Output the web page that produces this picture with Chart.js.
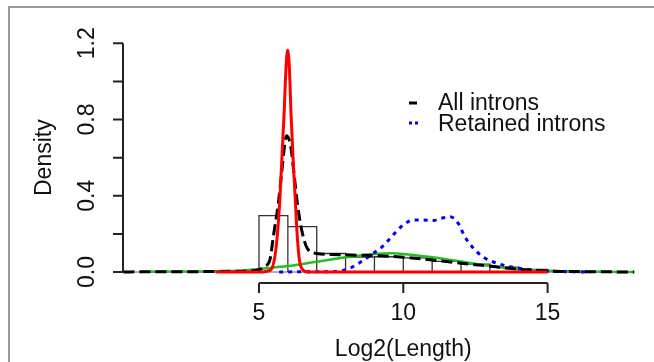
<!DOCTYPE html>
<html>
<head>
<meta charset="utf-8">
<script src="https://cdn.jsdelivr.net/npm/chart.js@4/dist/chart.umd.min.js"></script>
<style>
  html, body { margin: 0; padding: 0; background: #fff; }
  canvas { display: block; }
</style>
</head>
<body>
<canvas id="chart" width="654" height="362" style="width:654px;height:362px"></canvas>
<script>
// histogram (density scale), bins of width 1
const binStarts = [5, 6, 7, 8, 9, 10, 11, 12, 13, 14, 15, 16];
const binDensity = [0.296, 0.238, 0.097, 0.078, 0.080, 0.074, 0.056, 0.041, 0.026, 0.014, 0.005, 0.001];

// All introns - black dashed density
const allX = [0.3, 1, 2, 3, 4, 4.6, 5.0, 5.2, 5.38, 5.5, 5.67, 5.82, 5.9, 5.96, 6.03, 6.1, 6.21, 6.33, 6.48, 6.67, 7.0, 7.5, 8, 8.5, 9, 9.5, 10, 10.5, 11, 11.5, 12, 12.5, 13, 13.5, 14, 14.5, 15, 15.5, 16, 17, 18];
const allY = [0, 0.001, 0.001, 0.002, 0.004, 0.006, 0.012, 0.03, 0.065, 0.19, 0.36, 0.57, 0.68, 0.715, 0.70, 0.66, 0.52, 0.36, 0.22, 0.125, 0.097, 0.092, 0.09, 0.088, 0.086, 0.083, 0.078, 0.071, 0.063, 0.055, 0.046, 0.038, 0.031, 0.022, 0.014, 0.009, 0.005, 0.003, 0.002, 0.001, 0];

// Retained introns - blue dotted density
const retX = [5.7, 6.5, 7.0, 7.5, 7.8, 8.15, 8.5, 8.96, 9.31, 9.66, 10.0, 10.35, 10.69, 11.04, 11.33, 11.62, 11.9, 12.13, 12.43, 12.78, 13.24, 13.7, 14.16, 14.74, 15.3, 16.0, 16.5];
const retY = [0, 0.001, 0.001, 0.002, 0.005, 0.02, 0.05, 0.098, 0.138, 0.196, 0.247, 0.273, 0.273, 0.27, 0.282, 0.29, 0.256, 0.186, 0.125, 0.077, 0.046, 0.028, 0.016, 0.007, 0.003, 0.001, 0];

// red component (narrow peak)
const redX = [3.5, 5.0, 5.4, 5.55, 5.65, 5.73, 5.8, 5.87, 5.93, 5.99, 6.05, 6.11, 6.18, 6.25, 6.33, 6.4, 6.5, 6.7, 7.0, 15.0];
const redY = [0, 0, 0.01, 0.08, 0.22, 0.40, 0.62, 0.83, 1.05, 1.163, 1.08, 0.83, 0.60, 0.40, 0.18, 0.063, 0.015, 0, 0, 0];

// green component (broad)
const greenX = [1, 2, 3, 4, 4.5, 5, 6, 7, 8, 9, 9.6, 10, 11, 12, 13, 14, 15, 16, 17, 18];
const greenY = [0.001, 0.002, 0.003, 0.005, 0.008, 0.016, 0.031, 0.054, 0.077, 0.094, 0.098, 0.095, 0.077, 0.055, 0.032, 0.015, 0.006, 0.002, 0.001, 0];

const zeroLineX = [0.3, 18];

const yTicks = [0, 0.2, 0.4, 0.6, 0.8, 1.0, 1.2];
const yTickLabels = ['0.0', '', '0.4', '', '0.8', '', '1.2'];
const xTicks = [5, 10, 15];
const xTickLabels = ['5', '10', '15'];

const legendLabels = ['All introns', 'Retained introns'];

const toPoints = (xs, ys) => xs.map((x, i) => ({ x: x, y: ys[i] }));

// outline of the histogram bars
const histPoints = [];
binStarts.forEach((b, i) => {
  histPoints.push({ x: b, y: 0 }, { x: b, y: binDensity[i] }, { x: b + 1, y: binDensity[i] }, { x: b + 1, y: 0 });
});

const FONT = '"Liberation Sans", Arial, sans-serif';

const rAxes = {
  id: 'rAxes',
  beforeDraw(chart) {
    const c = chart.ctx;
    c.save();
    c.fillStyle = '#fff';
    c.fillRect(0, 0, chart.width, chart.height);
    // outer frame
    c.strokeStyle = '#9a9a9a';
    c.lineWidth = 2;
    c.beginPath();
    c.moveTo(9, chart.height);
    c.lineTo(9, 7);
    c.lineTo(chart.width, 7);
    c.stroke();
    c.restore();
  },
  afterDraw(chart) {
    const c = chart.ctx;
    const xs = chart.scales.x, ys = chart.scales.y;
    const area = chart.chartArea;
    c.save();
    c.strokeStyle = '#222';
    c.fillStyle = '#111';
    c.lineWidth = 2;

    // y axis
    const yAxisX = area.left;
    c.beginPath();
    c.moveTo(yAxisX, ys.getPixelForValue(yTicks[0]));
    c.lineTo(yAxisX, ys.getPixelForValue(yTicks[yTicks.length - 1]));
    yTicks.forEach(t => {
      const py = ys.getPixelForValue(t);
      c.moveTo(yAxisX, py);
      c.lineTo(yAxisX - 10, py);
    });
    c.stroke();
    c.font = '23px ' + FONT;
    c.textAlign = 'center';
    c.textBaseline = 'middle';
    yTicks.forEach((t, i) => {
      if (!yTickLabels[i]) return;
      c.save();
      c.translate(88, ys.getPixelForValue(t));
      c.rotate(-Math.PI / 2);
      c.fillText(yTickLabels[i], 0, 0);
      c.restore();
    });
    c.save();
    c.translate(45, ys.getPixelForValue(0.6));
    c.rotate(-Math.PI / 2);
    c.fillText('Density', 0, 0);
    c.restore();

    // x axis
    const xAxisY = area.bottom;
    c.beginPath();
    c.moveTo(xs.getPixelForValue(xTicks[0]), xAxisY);
    c.lineTo(xs.getPixelForValue(xTicks[xTicks.length - 1]), xAxisY);
    xTicks.forEach(t => {
      const px = xs.getPixelForValue(t);
      c.moveTo(px, xAxisY);
      c.lineTo(px, xAxisY + 10);
    });
    c.stroke();
    xTicks.forEach((t, i) => c.fillText(xTickLabels[i], xs.getPixelForValue(t), 314));
    c.fillText('Log2(Length)', xs.getPixelForValue(10), 350);

    // legend
    c.textAlign = 'left';
    c.textBaseline = 'alphabetic';
    c.lineWidth = 3;
    c.strokeStyle = '#000';
    c.beginPath();
    c.moveTo(409, 103);
    c.lineTo(417, 103);
    c.stroke();
    c.strokeStyle = '#0000ff';
    c.setLineDash([3, 3]);
    c.beginPath();
    c.moveTo(409, 123);
    c.lineTo(420, 123);
    c.stroke();
    c.setLineDash([]);
    c.fillText(legendLabels[0], 438, 110);
    c.fillText(legendLabels[1], 438, 131);
    c.restore();
  }
};

new Chart(document.getElementById('chart'), {
  type: 'line',
  data: {
    datasets: [
      { data: toPoints(redX, redY), borderColor: '#ff0000', borderWidth: 3, cubicInterpolationMode: 'monotone' },
      { data: toPoints(allX, allY), borderColor: '#000', borderWidth: 3, borderDash: [11, 5], cubicInterpolationMode: 'monotone' },
      { data: toPoints(retX, retY), borderColor: '#0000ff', borderWidth: 3, borderDash: [4, 5], cubicInterpolationMode: 'monotone' },
      { data: toPoints(greenX, greenY), borderColor: '#22c022', borderWidth: 2.5, cubicInterpolationMode: 'monotone' },
      { data: histPoints, borderColor: '#333', borderWidth: 1.3, tension: 0 },
      { data: zeroLineX.map(x => ({ x: x, y: 0 })), borderColor: '#999', borderWidth: 1.5 }
    ]
  },
  options: {
    responsive: false,
    devicePixelRatio: 1,
    animation: false,
    parsing: false,
    layout: { padding: { left: 123, top: 42, right: 0, bottom: 79 } },
    elements: { point: { radius: 0 }, line: { fill: false } },
    plugins: { legend: { display: false }, tooltip: { enabled: false } },
    scales: {
      x: { type: 'linear', display: false, min: 0.288, max: 18.687 },
      y: { type: 'linear', display: false, min: -0.0577, max: 1.2067 }
    }
  },
  plugins: [rAxes]
});
</script>
</body>
</html>
